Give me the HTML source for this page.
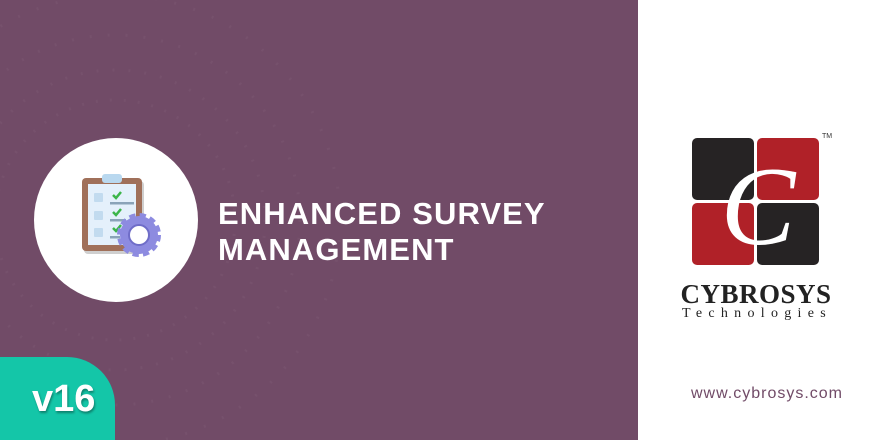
<!DOCTYPE html>
<html><head><meta charset="utf-8"><style>
html,body{margin:0;padding:0}
body{width:880px;height:440px;position:relative;overflow:hidden;background:#fff;font-family:"Liberation Sans",sans-serif}
.left{position:absolute;left:0;top:0;width:638px;height:440px;background:#714b67;overflow:hidden}
.circle{position:absolute;left:34px;top:138px;width:164px;height:164px;border-radius:50%;background:#fff}
.title{position:absolute;left:218px;top:196px;color:#fff;font-weight:bold;font-size:31px;line-height:36px;letter-spacing:1.1px}
.badge{position:absolute;left:-20px;top:357px;width:135px;height:100px;background:#14c6a8;border-top-right-radius:48px}
.v16{position:absolute;left:32px;top:378px;color:#fff;font-weight:bold;font-size:38px;text-shadow:1px 2px 2px rgba(0,0,0,.35)}
.cyb{position:absolute;left:656px;top:279px;width:200px;text-align:center;font-family:"Liberation Serif",serif;font-weight:bold;font-size:27px;color:#222;letter-spacing:0.5px}
.tech{position:absolute;left:657px;top:306px;width:200px;text-align:center;font-family:"Liberation Serif",serif;font-size:14px;color:#222;letter-spacing:6.3px}
.url{position:absolute;left:662px;top:385px;width:210px;text-align:center;font-size:16px;color:#714b67;letter-spacing:1px}
</style></head><body>
<div class="left">
 <svg width="638" height="440" style="position:absolute;left:0;top:0">
  <g opacity="0.6">
   <circle cx="115" cy="220" r="120" fill="none" stroke="#7a5570" stroke-width="3" stroke-dasharray="2 12"/>
   <circle cx="115" cy="220" r="150" fill="none" stroke="#7a5570" stroke-width="3" stroke-dasharray="2 14"/>
   <circle cx="115" cy="220" r="185" fill="none" stroke="#7a5570" stroke-width="3" stroke-dasharray="2 16"/>
   <circle cx="115" cy="220" r="225" fill="none" stroke="#7a5570" stroke-width="3" stroke-dasharray="2 18"/>
  </g>
 </svg>
 <div class="circle"></div>
 <svg width="164" height="164" style="position:absolute;left:34px;top:138px">
  <rect x="50" y="43" width="60" height="73" rx="4" fill="#cfcfcf"/>
  <rect x="48" y="40" width="60" height="73" rx="4" fill="#a0705a"/>
  <rect x="54" y="46" width="48" height="61" fill="#e4f0fb"/>
  <rect x="68" y="36" width="20" height="9" rx="3" fill="#b9d8ef"/>
  <rect x="60" y="55" width="9" height="9" rx="1" fill="#c2dbef"/>
  <rect x="60" y="73" width="9" height="9" rx="1" fill="#c2dbef"/>
  <rect x="60" y="90" width="9" height="9" rx="1" fill="#c2dbef"/>
  <path d="M79 57l3 3 5-6M79 74l3 3 5-6M79 90l3 3 5-6" stroke="#3cb54a" stroke-width="2.5" fill="none"/>
  <rect x="76" y="64" width="24" height="2.5" fill="#8aa3b8"/>
  <rect x="76" y="81" width="16" height="2.5" fill="#8aa3b8"/>
  <rect x="76" y="98" width="10" height="2.5" fill="#8aa3b8"/>
  <g transform="translate(105,97)">
   <circle r="19" fill="#8d8be0" stroke="#8d8be0" stroke-width="6" stroke-dasharray="6 4"/>
   <circle r="17" fill="#8d8be0"/>
   <circle r="10" fill="#fff"/>
   <circle r="10" fill="none" stroke="#6f6dc8" stroke-width="2"/>
  </g>
 </svg>
 <div class="title">ENHANCED SURVEY<br>MANAGEMENT</div>
 <div class="badge"></div>
 <div class="v16">v16</div>
</div>
<svg width="150" height="140" style="position:absolute;left:688px;top:132px">
 <rect x="4" y="6" width="62" height="62" rx="5" fill="#262324"/>
 <rect x="69" y="6" width="62" height="62" rx="5" fill="#b02128"/>
 <rect x="4" y="71" width="62" height="62" rx="5" fill="#b02128"/>
 <rect x="69" y="71" width="62" height="62" rx="5" fill="#262324"/>
 <text x="70" y="112" text-anchor="middle" font-family="Liberation Serif,serif" font-style="italic" font-size="112" fill="#fff">C</text>
 <text x="134" y="6" font-size="7" font-family="Liberation Sans,sans-serif" fill="#333">TM</text>
</svg>
<div class="cyb">CYBROSYS</div>
<div class="tech">Technologies</div>
<div class="url">www.cybrosys.com</div>
</body></html>
